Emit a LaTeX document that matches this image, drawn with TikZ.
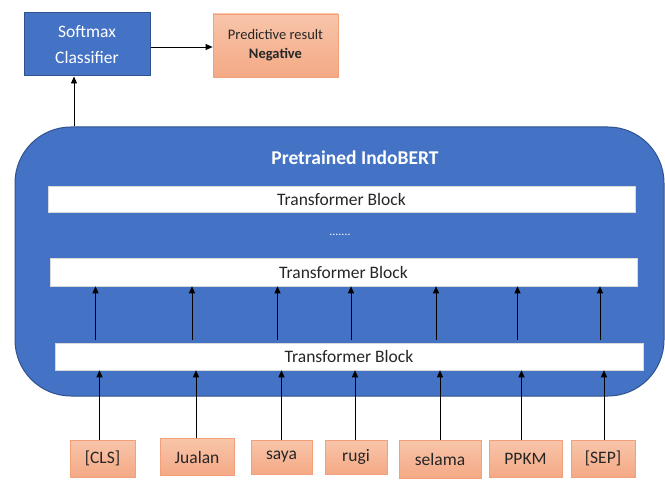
\documentclass[tikz,border=0pt]{standalone}
\usepackage{fontspec}
\setmainfont{Carlito}
\usetikzlibrary{arrows.meta}
\definecolor{bertblue}{HTML}{4472C4}
\definecolor{bertedge}{HTML}{2F528F}
\definecolor{orgtop}{HTML}{F8C5AA}
\definecolor{orgbot}{HTML}{F4A985}
\definecolor{orgedge}{HTML}{F2A07A}
\definecolor{txtdark}{HTML}{262626}
\tikzset{
  bluebox/.style={draw=bertedge, line width=1pt, fill=bertblue, text=white, align=center, inner sep=0pt},
  orangebox/.style={draw=orgedge, line width=0.8pt, top color=orgtop, bottom color=orgbot, text=txtdark, align=center, inner sep=0pt},
  tblock/.style={draw=white!85!black, line width=0.5pt, fill=white, text=txtdark, inner sep=0pt, font=\fontsize{17.5}{20}\selectfont},
  tok/.style={orangebox, minimum height=37pt, font=\fontsize{17.5}{20}\selectfont},
  arr/.style={line width=0.8pt, -{Triangle[length=7pt,width=6pt]}}
}
\begin{document}
\begin{tikzpicture}[x=1pt,y=-1pt]
\useasboundingbox (0,0) rectangle (665,487);
% big box
\node[bluebox, rounded corners=56pt, minimum width=649pt, minimum height=269pt] (big) at (339.5,261.5) {};
\node[text=white, font=\bfseries\fontsize{19.5}{22}\selectfont] (title) at (355,158) {Pretrained IndoBERT};
\node[tblock, minimum width=587pt, minimum height=26pt] (tb1) at (341.5,199) {Transformer Block};
\node[text=white, font=\fontsize{12}{12}\selectfont] (dots) at (340,235) {.......};
\node[tblock, minimum width=587pt, minimum height=28pt] (tb2) at (343.5,272) {Transformer Block};
\node[tblock, minimum width=588pt, minimum height=27pt] (tb3) at (349,356.5) {Transformer Block};
% top boxes
\node[bluebox, minimum width=126pt, minimum height=63pt, font=\fontsize{17.5}{26}\selectfont] (soft) at (87,44.5) {Softmax\\Classifier};
\node[orangebox, minimum width=125pt, minimum height=63pt, font=\fontsize{14.5}{19}\selectfont] (pred) at (275.5,45.5) {Predictive result\\\textbf{Negative}};
\draw[arr] (soft.east |- 0,47) -- (pred.west |- 0,47);
\draw[arr] ([xshift=-13pt]soft.south |- big.north) -- ([xshift=-13pt]soft.south);
% tokens
\node[tok, minimum width=65pt] (c1) at (102.5,458.5) {[CLS]};
\node[tok, minimum width=74pt] (c2) at (197,457) {Jualan};
\node[tok, minimum width=61pt, minimum height=34pt] (c3) at (281.5,457) {saya};
\node[tok, minimum width=62pt, minimum height=34pt] (c4) at (356,457) {rugi};
\node[tok, minimum width=82pt, minimum height=38pt] (c5) at (440,459) {selama};
\node[tok, minimum width=73pt] (c6) at (525.5,458.5) {PPKM};
\node[tok, minimum width=64pt] (c7) at (603,458.5) {[SEP]};
% arrows
\foreach \c/\d in {c1/-3, c2/-1, c3/0, c4/-1, c5/0, c6/-4, c7/1}{
  \draw[arr] ([xshift=\d pt]\c.north) -- ([xshift=\d pt]\c.north |- tb3.south);
  \draw[arr] ([xshift=\d pt - 4pt]\c.north |- tb3.north) ++(0,-3) -- ([xshift=\d pt - 4pt]\c.north |- tb2.south);
}
\end{tikzpicture}
\end{document}
